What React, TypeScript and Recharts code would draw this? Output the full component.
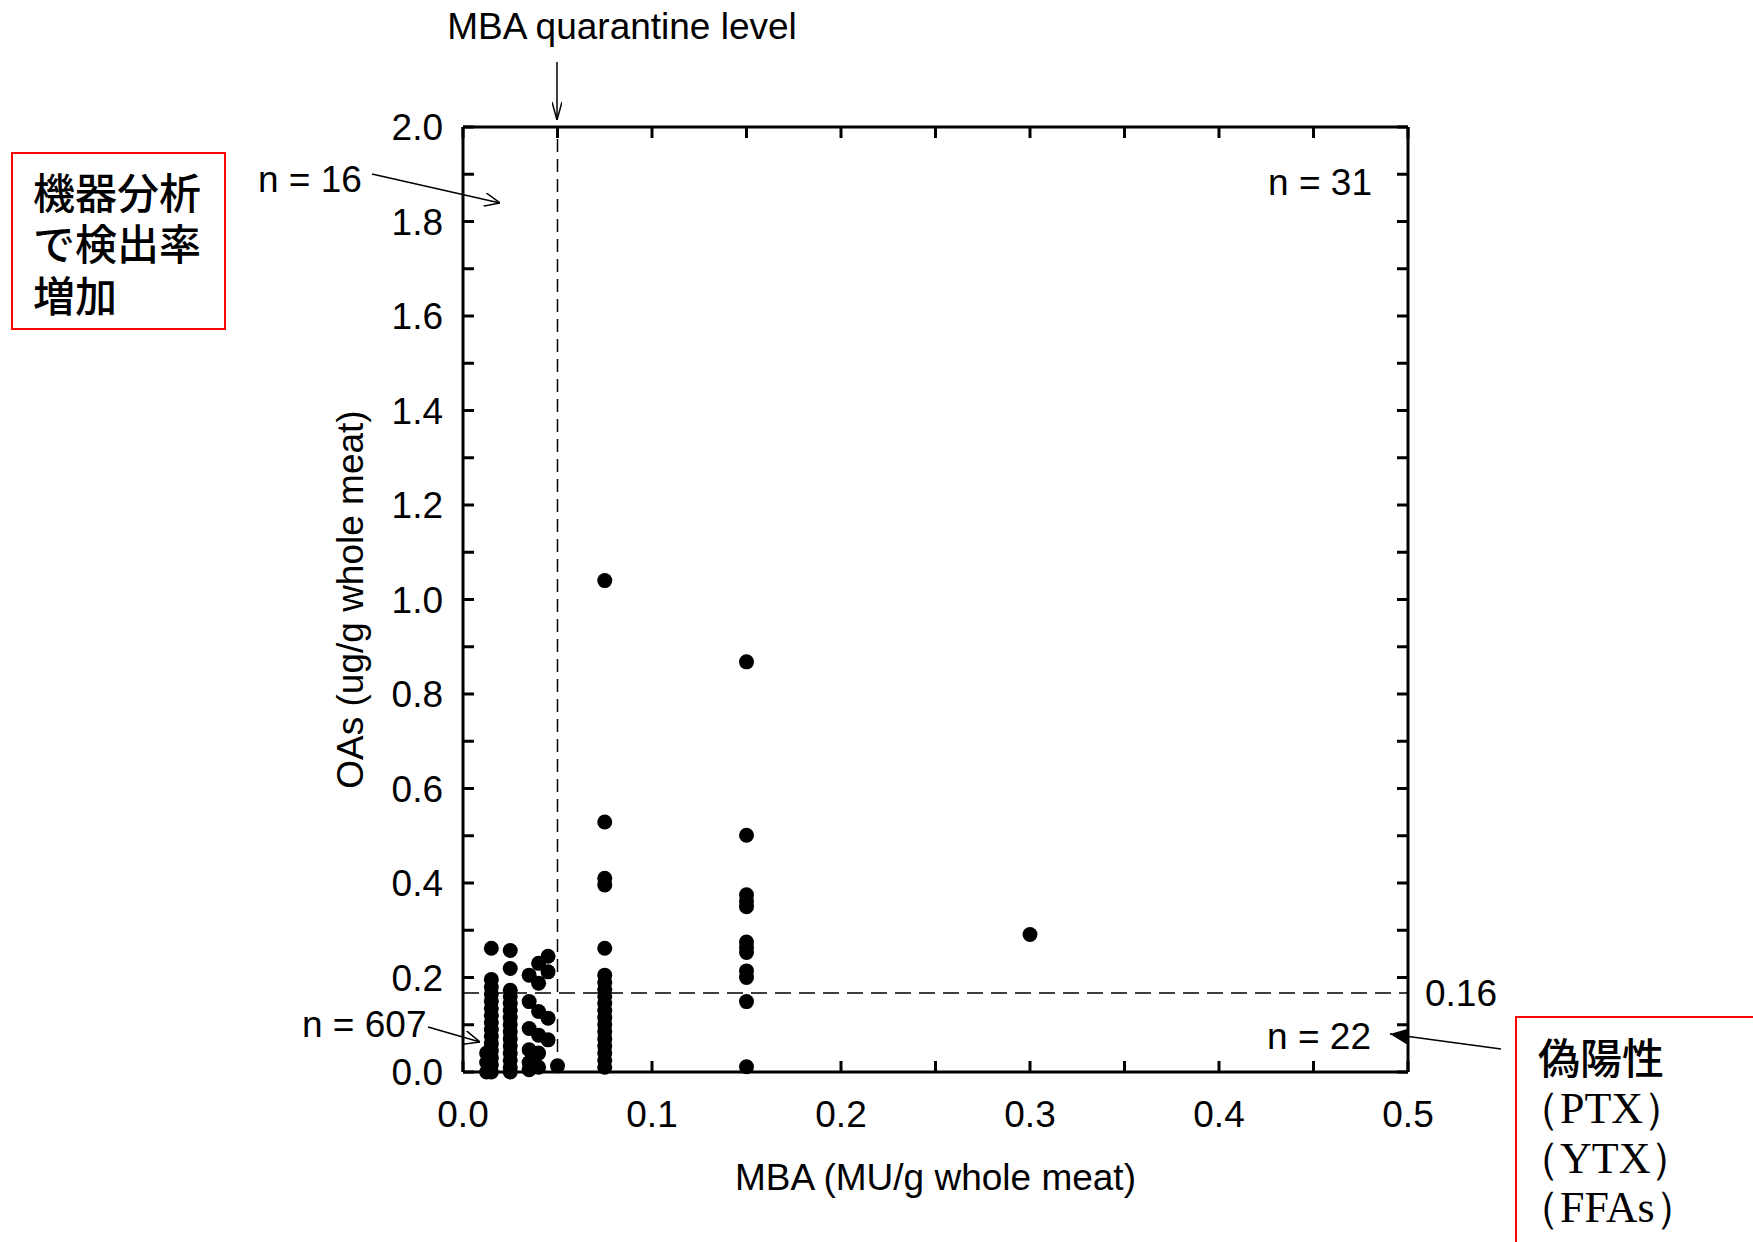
import React from "react";
import { ScatterChart, Scatter, XAxis, YAxis, ReferenceLine } from "recharts";

// MBA levels (MU/g) and the OAs values (ug/g) found at each level
const mbaLevels = [0.0125, 0.015, 0.025, 0.035, 0.04, 0.045, 0.05, 0.075, 0.15, 0.3];
const oas0125 = [0.0, 0.02, 0.04];
const oas015 = [0.262, 0.196, 0.18, 0.165, 0.15, 0.135, 0.12, 0.105, 0.09, 0.075, 0.06, 0.045, 0.03, 0.015, 0.0];
const oas025 = [0.257, 0.219, 0.173, 0.16, 0.145, 0.13, 0.115, 0.1, 0.085, 0.07, 0.055, 0.04, 0.025, 0.01, 0.0];
const oas035 = [0.205, 0.149, 0.092, 0.047, 0.02, 0.005];
const oas040 = [0.23, 0.188, 0.128, 0.078, 0.04, 0.01];
const oas045 = [0.245, 0.212, 0.114, 0.068];
const oas050 = [0.013];
const oas075 = [1.04, 0.529, 0.41, 0.396, 0.262, 0.205, 0.19, 0.175, 0.16, 0.145, 0.13, 0.115, 0.1, 0.085, 0.07, 0.055, 0.04, 0.025, 0.01];
const oas150 = [0.868, 0.501, 0.375, 0.362, 0.35, 0.275, 0.264, 0.253, 0.214, 0.2, 0.149, 0.011];
const oas300 = [0.291];
const oasByLevel = [oas0125, oas015, oas025, oas035, oas040, oas045, oas050, oas075, oas150, oas300];

const xTicks = [0, 0.05, 0.1, 0.15, 0.2, 0.25, 0.3, 0.35, 0.4, 0.45, 0.5];
const yTicks = [0, 0.1, 0.2, 0.3, 0.4, 0.5, 0.6, 0.7, 0.8, 0.9, 1.0, 1.1, 1.2, 1.3, 1.4, 1.5, 1.6, 1.7, 1.8, 1.9, 2.0];

const quarantineLevel = 0.05;
const oasLine = 0.167;
const oasLineLabel = "0.16";

const data = mbaLevels.flatMap((x, i) => oasByLevel[i].map((y) => ({ x, y })));

const FONT = '"Liberation Sans", Arial, sans-serif';
const CJK = '"Noto Sans CJK JP", sans-serif';
const FS = 37;
const tickStyle = { fill: "#000", fontSize: FS, fontFamily: FONT };
const frame = { stroke: "#000", strokeWidth: 3 };

const fmtX = (v: number) => (Math.round(v * 100) % 10 === 0 ? v.toFixed(1) : "");
const fmtY = (v: number) => (Math.round(v * 10) % 2 === 0 ? v.toFixed(1) : "");
const blank = () => "";

const Dot = (props: any) => <circle cx={props.cx} cy={props.cy} r={7.5} fill="#000" />;
const NoDot = () => <g />;

export default function App() {
  return (
    <div style={{ position: "absolute", left: 0, top: 0, width: 1753, height: 1242, background: "#fff" }}>
      <ScatterChart width={1753} height={1242} margin={{ top: 126, right: 344, bottom: 50, left: 350 }}>
        <XAxis
          type="number"
          dataKey="x"
          domain={[0, 0.5]}
          ticks={xTicks}
          interval={0}
          height={120}
          tickSize={-11}
          tickMargin={40}
          tickLine={frame}
          axisLine={frame}
          tick={tickStyle}
          tickFormatter={fmtX}
          label={{ value: "MBA (MU/g whole meat)", position: "insideBottom", offset: 2, fill: "#000", fontSize: FS, fontFamily: FONT }}
        />
        <XAxis
          xAxisId="top"
          orientation="top"
          type="number"
          dataKey="x"
          domain={[0, 0.5]}
          ticks={xTicks}
          interval={0}
          height={1}
          tickSize={-11}
          tickLine={frame}
          axisLine={frame}
          tickFormatter={blank}
        />
        <YAxis
          type="number"
          dataKey="y"
          domain={[0, 2]}
          ticks={yTicks}
          interval={0}
          width={113}
          tickSize={-11}
          tickMargin={31}
          tickLine={frame}
          axisLine={frame}
          tick={tickStyle}
          tickFormatter={fmtY}
          label={{
            value: "OAs (ug/g whole meat)",
            angle: -90,
            position: "insideLeft",
            offset: 0,
            fill: "#000",
            fontSize: FS,
            fontFamily: FONT,
            style: { textAnchor: "middle" },
          }}
        />
        <YAxis
          yAxisId="right"
          orientation="right"
          type="number"
          dataKey="y"
          domain={[0, 2]}
          ticks={yTicks}
          interval={0}
          width={1}
          tickSize={-11}
          tickLine={frame}
          axisLine={frame}
          tickFormatter={blank}
        />
        <ReferenceLine x={quarantineLevel} stroke="#000" strokeWidth={1.5} strokeDasharray="13 7" />
        <ReferenceLine
          y={oasLine}
          stroke="#000"
          strokeWidth={1.5}
          strokeDasharray="16 8"
          label={{ value: oasLineLabel, position: "right", offset: 17, fill: "#000", fontSize: FS, fontFamily: FONT }}
        />
        {/* same data on the top/right axes so their ticks get drawn */}
        <Scatter data={data} xAxisId="top" yAxisId="right" shape={NoDot} isAnimationActive={false} />
        <Scatter data={data} fill="#000" shape={Dot} isAnimationActive={false} />
      </ScatterChart>

      <svg width={1753} height={1242} style={{ position: "absolute", left: 0, top: 0, pointerEvents: "none" }}>
        <defs>
          <marker id="narrow" viewBox="0 0 18 10" refX="18" refY="5" markerWidth="18" markerHeight="10" markerUnits="userSpaceOnUse" orient="auto">
            <path d="M0,0 L18,5 L0,10" fill="none" stroke="#000" strokeWidth={1.5} />
          </marker>
          <marker id="open" viewBox="0 0 16 14" refX="16" refY="7" markerWidth="16" markerHeight="14" markerUnits="userSpaceOnUse" orient="auto">
            <path d="M0,0 L16,7 L0,14" fill="none" stroke="#000" strokeWidth={1.5} />
          </marker>
          <marker id="solid" viewBox="0 0 18 16" refX="18" refY="8" markerWidth="18" markerHeight="16" markerUnits="userSpaceOnUse" orient="auto">
            <path d="M0,0 L18,8 L0,16 Z" fill="#000" />
          </marker>
        </defs>
        <g fontFamily={FONT} fontSize={FS} fill="#000">
          <text x={622} y={39} textAnchor="middle">MBA quarantine level</text>
          <text x={258} y={192}>n = 16</text>
          <text x={1372} y={195} textAnchor="end">n = 31</text>
          <text x={302} y={1037}>n = 607</text>
          <text x={1371} y={1049} textAnchor="end">n = 22</text>
        </g>
        <g stroke="#000" strokeWidth={1.5}>
          <line x1={557} y1={62} x2={557} y2={120} markerEnd="url(#narrow)" />
          <line x1={372} y1={174} x2={500} y2={203} markerEnd="url(#open)" />
          <line x1={428} y1={1027} x2={480} y2={1042} markerEnd="url(#open)" />
          <line x1={1501} y1={1049} x2={1390} y2={1034} markerEnd="url(#solid)" />
        </g>

        <rect x={12} y={153} width={213} height={176} fill="none" stroke="#f00" strokeWidth={2} />
        <g fontFamily={CJK} fontSize={42} fontWeight={500} fill="#000">
          <text x={33} y={209}>機器分析</text>
          <text x={33} y={260}>で検出率</text>
          <text x={33} y={312}>増加</text>
        </g>

        <rect x={1516} y={1017} width={260} height={260} fill="none" stroke="#f00" strokeWidth={2} />
        <text x={1538} y={1074} fontFamily={CJK} fontSize={42} fontWeight={500} fill="#000">偽陽性</text>
        <g fontFamily={'"Liberation Serif", "Times New Roman", serif'} fontSize={44} fill="#000">
          <text x={1516} y={1123}>（PTX）</text>
          <text x={1516} y={1173}>（YTX）</text>
          <text x={1516} y={1222}>（FFAs）</text>
        </g>
      </svg>
    </div>
  );
}
